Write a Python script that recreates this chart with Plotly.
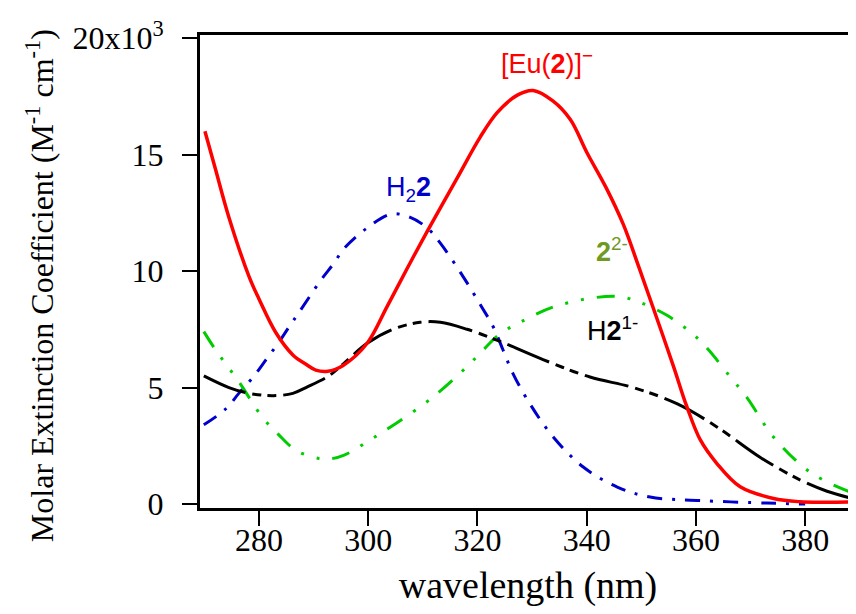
import plotly.graph_objects as go

# absorption spectra, values in units of 10^3 M^-1 cm^-1
eu_wl = [270.1, 272.0, 274.5, 278.2, 280.0, 283.1, 286.2, 288.6, 290.4, 292.6, 295.4, 299.8,
         303.4, 307.1, 310.8, 316.3, 320.5, 323.6, 327.3, 330.2, 333.8, 337.0, 340.0, 343.5,
         346.7, 349.5, 352.5, 355.9, 358.3, 360.8, 363.8, 368.1, 374.2, 379.0, 384.0, 389.3]
eu_val = [16.0, 14.4, 12.3, 9.75, 8.8, 7.35, 6.4, 6.0, 5.75, 5.7, 5.95, 6.9,
          8.45, 10.1, 11.7, 14.0, 15.75, 16.8, 17.55, 17.75, 17.3, 16.5, 15.1, 13.6,
          12.0, 10.2, 8.2, 5.9, 4.2, 2.75, 1.75, 0.74, 0.24, 0.1, 0.08, 0.1]

h21_wl = [269.9, 274.5, 278.2, 282.6, 286.2, 288.6, 292.8, 295.6, 299.8, 304.5, 309.5, 313.2,
          318.1, 323.9, 332.0, 340.6, 348.5, 356.6, 363.9, 371.8, 379.1, 384.0, 389.3]
h21_val = [5.5, 5.0, 4.75, 4.65, 4.75, 5.0, 5.5, 6.05, 6.9, 7.5, 7.8, 7.8,
           7.5, 7.0, 6.2, 5.45, 5.0, 4.3, 3.3, 2.0, 1.03, 0.55, 0.2]

l2_wl = [269.9, 272.1, 276.3, 280.7, 283.5, 286.8, 291.0, 292.8, 295.6, 300.0, 305.0, 311.9,
         318.1, 321.0, 324.1, 327.8, 333.8, 341.2, 346.1, 349.8, 354.7, 358.9, 362.0, 366.3,
         369.4, 374.1, 379.6, 383.3, 388.8, 389.3]
l2_val = [7.4, 6.6, 5.25, 3.7, 3.0, 2.3, 1.95, 1.93, 2.1, 2.7, 3.45, 4.6,
          5.9, 6.6, 7.3, 7.8, 8.45, 8.85, 8.9, 8.65, 8.1, 7.4, 6.7, 5.45,
          4.55, 2.9, 1.6, 1.03, 0.47, 0.43]

h22_wl = [269.9, 274.0, 276.3, 279.1, 281.3, 283.5, 285.5, 287.4, 291.3, 293.6, 295.7, 299.8,
          304.3, 307.7, 310.8, 313.2, 317.4, 320.8, 322.9, 324.7, 326.5, 329.6, 333.8, 339.3,
          345.6, 351.6, 360.8, 373.0, 380.0]
h22_val = [3.4, 4.1, 4.75, 5.5, 6.2, 6.9, 7.6, 8.25, 9.6, 10.3, 11.0, 11.85,
           12.45, 12.3, 11.85, 11.2, 9.75, 8.45, 7.6, 6.6, 5.6, 4.3, 2.9, 1.6,
           0.73, 0.3, 0.15, 0.04, 0.0]

yticks = [0, 5, 10, 15, 20]
yticklabels = ["0", "5", "10", "15", "20x10<sup>3</sup>"]

fig = go.Figure()
fig.add_trace(go.Scatter(x=h22_wl, y=h22_val, mode="lines", line_shape="spline",
                         line=dict(color="#0000cc", width=3, smoothing=1, dash="15px,10px,3px,10px")))
fig.add_trace(go.Scatter(x=l2_wl, y=l2_val, mode="lines", line_shape="spline",
                         line=dict(color="#00cc00", width=3, smoothing=1,
                                   dash="18px,13px,3px,13px,3px,13px")))
fig.add_trace(go.Scatter(x=h21_wl, y=h21_val, mode="lines", line_shape="spline",
                         line=dict(color="black", width=3, smoothing=1,
                                   dash="45px,7px,9px,6px,9px,7px")))
fig.add_trace(go.Scatter(x=eu_wl, y=eu_val, mode="lines", line_shape="spline",
                         line=dict(color="#ff0000", width=3.5, smoothing=1)))

lab = dict(family="Liberation Sans, Arial", size=27)
fig.add_annotation(x=332.7, y=18.95, text="[Eu(<b>2</b>)]<sup>−</sup>", showarrow=False,
                   font=dict(lab, color="#ff0000"))
fig.add_annotation(x=307.4, y=13.5, text="H<sub>2</sub><b>2</b>", showarrow=False,
                   font=dict(lab, color="#0000cc"))
fig.add_annotation(x=344.7, y=10.9, text="<b>2</b><sup>2-</sup>", showarrow=False,
                   font=dict(lab, color="#6f9a1f"))
fig.add_annotation(x=344.7, y=7.5, text="H<b>2</b><sup>1-</sup>", showarrow=False,
                   font=dict(lab, color="black"))

# y title placed by hand, it sits a bit below the plot centre in the original
fig.add_annotation(xref="paper", yref="paper", x=-0.244, y=0.471, xanchor="center", yanchor="middle",
                   textangle=-90,
                   text="Molar Extinction Coefficient (M<sup>-1</sup> cm<sup>-1</sup>)",
                   showarrow=False, font=dict(family="Liberation Serif, Times New Roman", size=32, color="black"))

# page body has an 8px margin, so the figure is a bit smaller than the window
fig.update_layout(
    width=848, height=606,
    margin=dict(l=192, r=0, t=27, b=106),
    plot_bgcolor="white", paper_bgcolor="white",
    showlegend=False,
    font=dict(family="Liberation Serif, Times New Roman", size=32, color="black"),
)
fig.update_xaxes(range=[269.2, 389.3], tickvals=[280, 300, 320, 340, 360, 380],
                 showline=True, linecolor="black", linewidth=3, mirror=True,
                 ticks="outside", ticklen=15, tickwidth=2, tickcolor="black",
                 ticklabelstandoff=-13, showgrid=False, zeroline=False,
                 title=dict(text="wavelength (nm)", standoff=14))
fig.update_yaxes(range=[-0.17, 20.13], tickvals=yticks, ticktext=yticklabels,
                 showline=True, linecolor="black", linewidth=3, mirror=False,
                 ticks="outside", ticklen=15, tickwidth=2, tickcolor="black",
                 ticklabelstandoff=12, showgrid=False, zeroline=False)

fig.write_html("out.html")
